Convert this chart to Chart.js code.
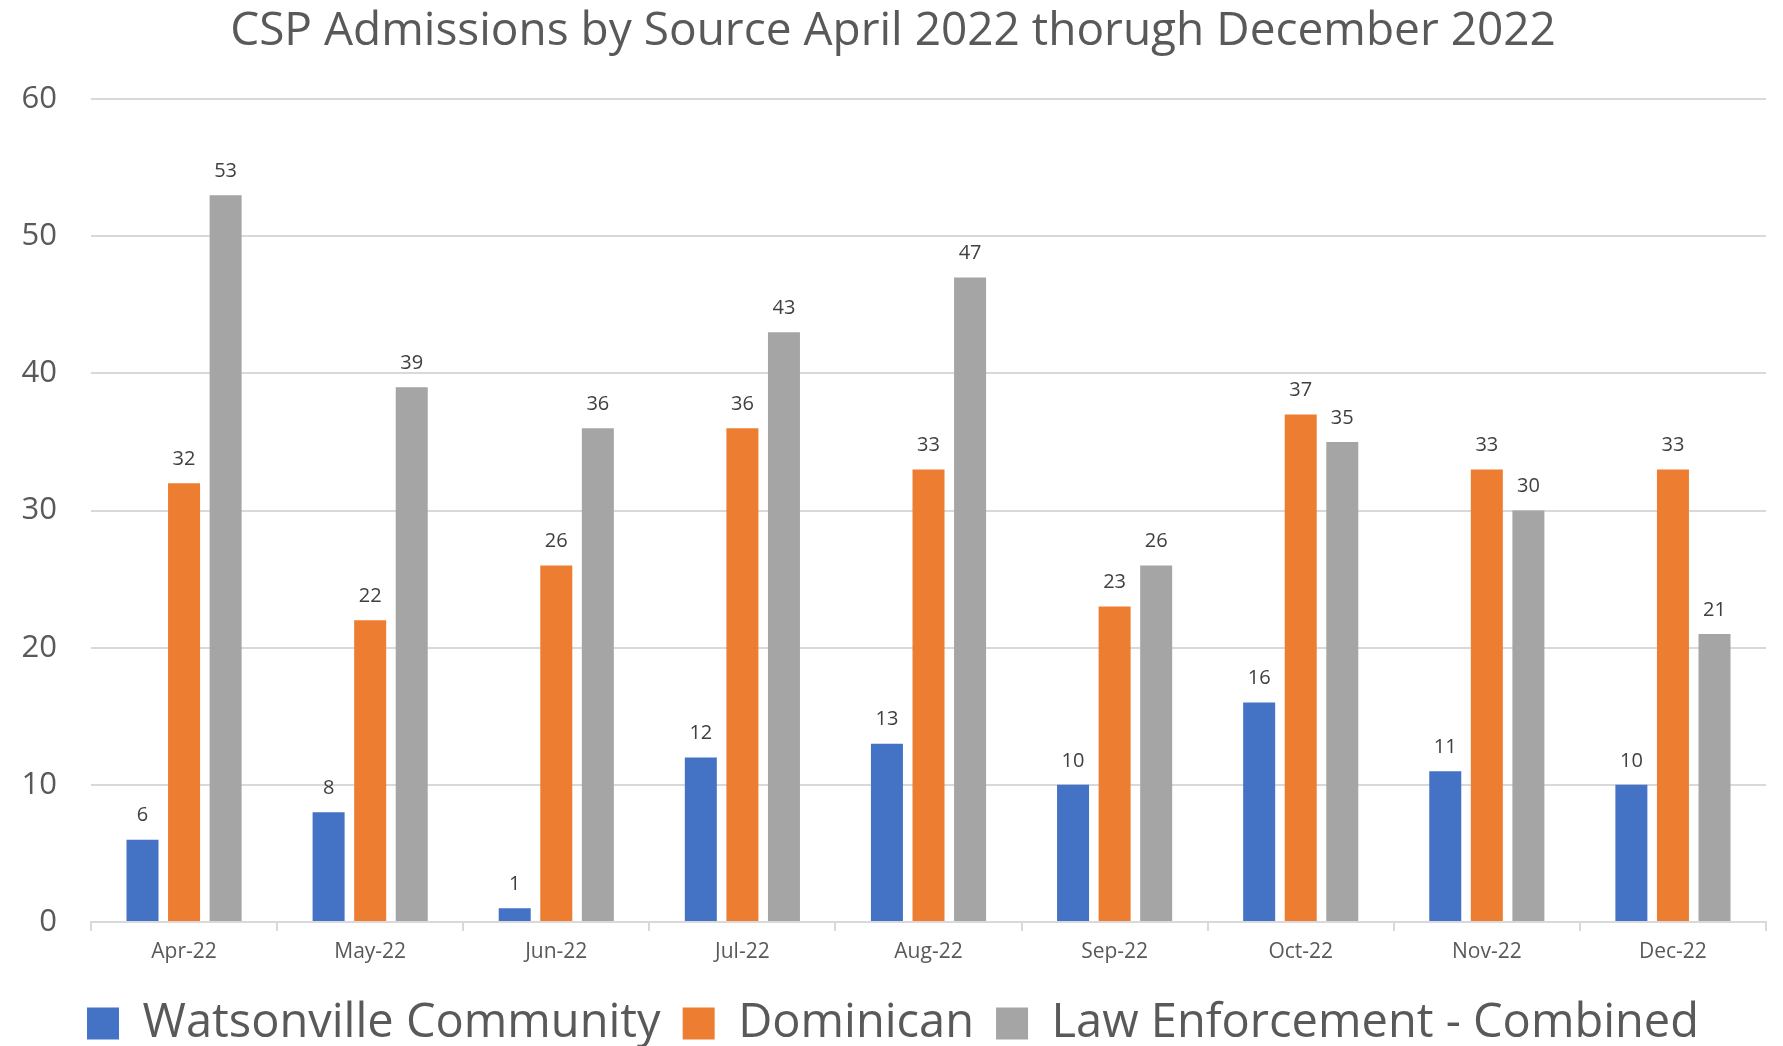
<!DOCTYPE html>
<html>
<head>
<meta charset="utf-8">
<script src="https://cdn.jsdelivr.net/npm/chart.js@4"></script>
<style>
  html, body { margin: 0; padding: 0; background: #fff; }
  #wrap { width: 1783px; height: 1046px; }
</style>
</head>
<body>
<div id="wrap"><canvas id="admissionsChart"></canvas></div>
<script>
// ===============================
// Data
// ===============================
const months = ["Apr-22", "May-22", "Jun-22", "Jul-22", "Aug-22", "Sep-22", "Oct-22", "Nov-22", "Dec-22"];
const watsonville = [6, 8, 1, 12, 13, 10, 16, 11, 10];
const dominican = [32, 22, 26, 36, 33, 23, 37, 33, 33];
const lawEnforcement = [53, 39, 36, 43, 47, 26, 35, 30, 21];

const FONT = "'Open Sans', 'DejaVu Sans', sans-serif";

// value labels above each bar
const barLabels = {
  id: "barLabels",
  afterDatasetsDraw(chart) {
    const ctx = chart.ctx;
    ctx.save();
    ctx.font = "20px " + FONT;
    ctx.fillStyle = "#404040";
    ctx.textAlign = "center";
    ctx.textBaseline = "bottom";
    chart.data.datasets.forEach((ds, i) => {
      chart.getDatasetMeta(i).data.forEach((bar, j) => {
        ctx.fillText(ds.data[j], bar.x, bar.y - 14);
      });
    });
    ctx.restore();
  }
};

new Chart(document.getElementById("admissionsChart"), {
  type: "bar",
  data: {
    labels: months,
    datasets: [
      { label: "Watsonville Community", data: watsonville, backgroundColor: "#4472C4" },
      { label: "Dominican", data: dominican, backgroundColor: "#ED7D31" },
      { label: "Law Enforcement - Combined", data: lawEnforcement, backgroundColor: "#A5A5A5" }
    ]
  },
  options: {
    responsive: true,
    maintainAspectRatio: false,
    animation: false,
    datasets: { bar: { categoryPercentage: 0.67, barPercentage: 0.77 } },
    layout: { padding: { top: 0, left: 20, right: 17, bottom: -11 } },
    plugins: {
      title: {
        display: true,
        text: "CSP Admissions by Source April 2022 thorugh December 2022",
        color: "#595959",
        font: { family: FONT, size: 46, weight: "normal" },
        padding: { top: 4, bottom: 40 }
      },
      legend: {
        position: "bottom",
        labels: {
          boxWidth: 32,
          boxHeight: 32,
          padding: 22,
          color: "#595959",
          font: { family: FONT, size: 47 }
        }
      },
      tooltip: { enabled: false }
    },
    scales: {
      y: {
        min: 0,
        max: 60,
        ticks: { stepSize: 10, color: "#595959", padding: 34, font: { family: FONT, size: 31 } },
        grid: { color: "#d9d9d9", lineWidth: 2, drawTicks: false },
        border: { display: false },
        afterFit(scale) { scale.width = 71; }
      },
      x: {
        ticks: { color: "#595959", padding: 8, font: { family: FONT, size: 21 } },
        grid: { offset: true, drawOnChartArea: false, color: "#d9d9d9", lineWidth: 2, tickLength: 9 },
        border: { color: "#d9d9d9", width: 2 },
        // extra room between month labels and legend
        afterFit(scale) { scale.height = 56; }
      }
    }
  },
  plugins: [barLabels]
});
</script>
</body>
</html>
